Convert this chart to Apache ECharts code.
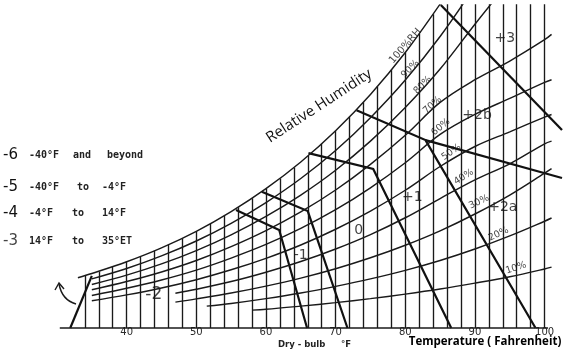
<!DOCTYPE html>
<html><head><meta charset="utf-8">
<script src="https://cdn.jsdelivr.net/npm/echarts@6/dist/echarts.min.js"></script>
<style>html,body{margin:0;padding:0;background:#fff}#c{width:565px;height:353px}</style>
</head><body><div id="c"></div>
<script>
// ---- data (dry-bulb °F, vapour pressure in. Hg) ----
const tempTicks = [40, 50, 60, 70, 80, 90, 100];
const gridTemps = [34,36,38,40,42,44,46,48,50,52,54,56,58,60,62,64,66,68,70,72,74,76,78,80,82,84,86,88,90,92,94,96,98,100];
const satPressure = [0.196,0.212,0.229,0.248,0.268,0.289,0.312,0.336,0.362,0.390,0.420,0.452,0.486,0.522,0.560,0.601,0.644,0.690,0.739,0.791,0.846,0.905,0.967,1.032,1.102,1.175,1.253,1.335,1.422,1.513,1.609,1.711,1.819,1.933];

const rh100 = [[33,0.188],[35,0.204],[40,0.248],[45,0.300],[50,0.362],[55,0.436],[60,0.522],[65,0.622],[70,0.739],[75,0.875],[80,1.032],[85,1.213],[87,1.29]];
const rh90 = [[35,0.184],[40,0.223],[45,0.270],[50,0.326],[55,0.392],[60,0.470],[65,0.560],[70,0.665],[75,0.788],[80,0.929],[85,1.092],[90,1.280]];
const rh80 = [[35,0.163],[40,0.198],[45,0.240],[50,0.290],[55,0.349],[60,0.418],[65,0.498],[70,0.591],[75,0.700],[80,0.826],[85,0.970],[90,1.138],[95,1.300]];
const rh70 = [[35,0.143],[40,0.174],[45,0.210],[50,0.253],[55,0.305],[60,0.365],[65,0.435],[70,0.517],[75,0.613],[80,0.722],[85,0.845],[90,0.930],[95,1.000],[100,1.080],[101,1.100]];
const rh60 = [[35,0.122],[40,0.149],[45,0.180],[50,0.217],[55,0.262],[60,0.313],[65,0.373],[70,0.443],[75,0.525],[80,0.619],[85,0.725],[90,0.800],[95,0.860],[100,0.920],[101,0.930]];
const rh50 = [[35,0.102],[40,0.124],[45,0.150],[50,0.181],[55,0.218],[60,0.261],[65,0.311],[70,0.370],[75,0.438],[80,0.516],[85,0.605],[90,0.680],[95,0.735],[100,0.790],[101,0.800]];
const rh40 = [[47,0.130],[50,0.145],[55,0.174],[60,0.209],[65,0.249],[70,0.296],[75,0.350],[80,0.413],[85,0.485],[90,0.555],[95,0.615],[100,0.690],[101,0.700]];
const rh30 = [[47,0.097],[50,0.109],[55,0.131],[60,0.157],[65,0.187],[70,0.222],[75,0.263],[80,0.310],[85,0.364],[90,0.427],[95,0.498],[100,0.580],[101,0.597]];
const rh20 = [[51.5,0.082],[55,0.092],[60,0.110],[65,0.131],[70,0.156],[75,0.184],[80,0.216],[85,0.253],[90,0.296],[95,0.345],[100,0.400],[101,0.412]];
const rh10 = [[58,0.067],[60,0.070],[65,0.082],[70,0.095],[75,0.110],[80,0.127],[85,0.146],[90,0.168],[95,0.192],[100,0.221],[101,0.228]];
const rhCurves = [rh100, rh90, rh80, rh70, rh60, rh50, rh40, rh30, rh20, rh10];

// thermal-sensation zone boundaries
const zoneLeft  = [[31.9,0],[35.0,0.195]];
const zoneM2M1  = [[55.7,0.442],[61.9,0.367],[65.9,0]];
const zoneM1Z   = [[59.4,0.510],[66.0,0.438],[71.7,0]];
const zoneZP1   = [[66.1,0.655],[75.4,0.596],[86.6,0]];
const zoneP1P2  = [[73.0,0.816],[82.9,0.704],[98.7,0]];
const zoneP2aP2b= [[82.9,0.704],[102.5,0.562]];
const zoneP2bP3 = [[85.1,1.210],[102.5,0.742]];
const zoneLines = [zoneLeft, zoneM2M1, zoneM1Z, zoneZP1, zoneP1P2, zoneP2aP2b, zoneP2bP3];

const zoneNames = ['-2','-1','0','+1','+2a','+2b','+3'];
const zoneNamePos = [[43.9,0.124],[65.0,0.273],[73.3,0.367],[81.0,0.491],[94.0,0.453],[90.3,0.798],[94.3,1.086]];

const rhNames = ['100%RH','90%','80%','70%','60%','50%','40%','30%','20%','10%'];
const rhNamePos = [[80.0,1.056],[80.7,0.970],[82.5,0.910],[83.9,0.835],[85.1,0.753],[86.6,0.659],[88.4,0.566],[90.6,0.472],[93.4,0.352],[95.9,0.225]];
const rhNameAngle = [49,45,45,42,40,35,33,25,25,18];

const legendCodes = ['-6','-5','-4','-3'];
const legendRanges = [['-40°F','and','beyond'],['-40°F','to','-4°F'],['-4°F','to','14°F'],['14°F','to','35°ET']];

// ---- chart ----
const ink = '#1a1a1a';
const chart = echarts.init(document.getElementById('c'), null, {renderer:'canvas'});
const series = [];

series.push({
  type:'lines', coordinateSystem:'cartesian2d', polyline:false, clip:true, silent:true,
  lineStyle:{color:ink, width:1.35, opacity:1},
  data: gridTemps.map((t,i)=>({coords:[[t,0],[t,satPressure[i]]]}))
});
rhCurves.forEach(c=>series.push({
  type:'line', data:c, smooth:0.35, symbol:'none', silent:true, clip:true,
  lineStyle:{color:ink, width:1.45}
}));
series.push({
  type:'line', data:[[30.4,0],[100.5,0]], symbol:'none', silent:true, clip:false,
  lineStyle:{color:ink, width:1.7}
});
series.push({
  type:'lines', coordinateSystem:'cartesian2d', polyline:true, clip:true, silent:true,
  lineStyle:{color:'#111', width:2.2, opacity:1},
  data: zoneLines.map(z=>({coords:z}))
});
series.push({
  type:'scatter', symbolSize:0, silent:true,
  data: zoneNamePos.map((p,i)=>({value:p, label:{show:true, position:'inside', formatter:zoneNames[i],
    fontSize: i===0?17:14, color:'#111', fontFamily:'DejaVu Sans'}}))
});
series.push({
  type:'scatter', symbolSize:0, silent:true,
  data: rhNamePos.map((p,i)=>({value:p, label:{show:true, position:'inside', formatter:rhNames[i],
    rotate:rhNameAngle[i], fontSize: i===0?10:9.5, color:'#111', fontFamily:'DejaVu Sans'}}))
});

const graphic = [];
const rowY = [155, 187, 213, 241];
const colX = [[29,73,107],[29,77,102],[29,72,102],[29,72,102]];
legendCodes.forEach((c,i)=>{
  graphic.push({type:'text', silent:true, style:{x:3, y:rowY[i], text:c, font:'15px "DejaVu Sans"', fill: i===3?'#444':'#111', textVerticalAlign:'middle'}});
  legendRanges[i].forEach((w,j)=>graphic.push({type:'text', silent:true, style:{x:colX[i][j], y:rowY[i]+0.5, text:w, font:'bold 10px "DejaVu Sans Mono"', fill:'#222', textVerticalAlign:'middle'}}));
});
graphic.push({type:'text', silent:true, x:319, y:106, rotation:33*Math.PI/180,
  style:{x:0, y:0, text:'Relative Humidity', font:'15px "Open Sans"', fill:'#111', textAlign:'center', textVerticalAlign:'middle'}});
graphic.push({type:'text', silent:true, style:{x:485, y:342, text:'Temperature ( Fahrenheit)', font:'bold 11.5px "Open Sans"', fill:'#000', textAlign:'center', textVerticalAlign:'middle'}});
graphic.push({type:'text', silent:true, style:{x:278, y:345, text:'Dry - bulb', font:'bold 8.5px "DejaVu Sans"', fill:'#222', textVerticalAlign:'middle'}});
graphic.push({type:'text', silent:true, style:{x:341, y:345, text:'°F', font:'bold 8.5px "DejaVu Sans"', fill:'#222', textVerticalAlign:'middle'}});
graphic.push({type:'bezierCurve', silent:true, shape:{x1:76, y1:304, cpx1:62, cpy1:300, x2:59, y2:284}, style:{stroke:ink, lineWidth:1.4, fill:null}});
graphic.push({type:'polyline', silent:true, shape:{points:[[55,290],[59,283],[64,289]]}, style:{stroke:ink, lineWidth:1.4, fill:null}});

chart.setOption({
  animation:false,
  backgroundColor:'#fff',
  grid:{left:57, right:0, top:5, bottom:25, containLabel:false},
  xAxis:{type:'value', min:30, max:102.5, interval:10,
    axisLine:{show:false}, axisTick:{show:false}, splitLine:{show:false},
    axisLabel:{margin:-1, fontSize:10, color:'#2a2a2a', fontFamily:'DejaVu Sans',
      formatter:v=>tempTicks.includes(v)?String(v):''}},
  yAxis:{type:'value', min:0, max:1.21, show:false, splitLine:{show:false}},
  series, graphic
});
</script></body></html>
